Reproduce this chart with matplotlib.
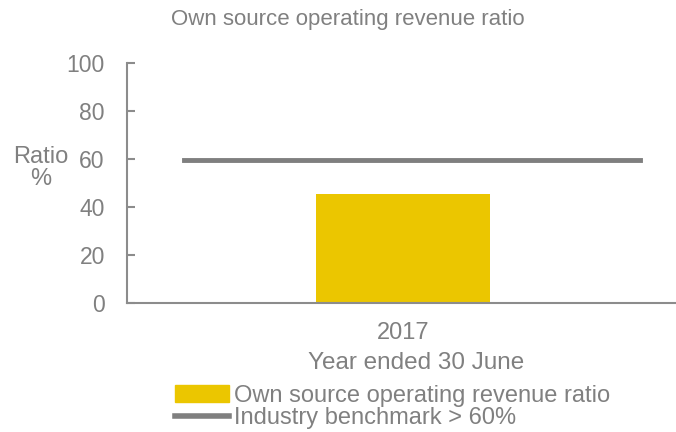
import matplotlib
matplotlib.use("Agg")
import matplotlib.pyplot as plt
from matplotlib.patches import Patch
from matplotlib.lines import Line2D

categories = ["2017"]
ratio_values = [45.2]
benchmark_value = 59.4
yticks = [0, 20, 40, 60, 80, 100]

plt.rcParams['font.family'] = ['Liberation Sans', 'DejaVu Sans']
gray = "#7f7f7f"
txt = "#808080"
yellow = "#EBC600"
fs = 17

fig = plt.figure(figsize=(6.76, 4.32), dpi=100)
ax = fig.add_axes([127/676, 1-302.5/432, 549/676, 239.8/432])

ax.bar(categories, ratio_values, width=0.318, color=yellow, zorder=2)
ax.axhline(benchmark_value, xmin=0.103, xmax=0.935, color=gray, lw=3.5, zorder=3)

ax.set_xlim(-0.503, 0.497)
ax.set_ylim(0, 100)
ax.set_yticks(yticks)
ax.set_yticklabels([str(v) for v in yticks])
for s in ["top", "right"]:
    ax.spines[s].set_visible(False)
for s in ["left", "bottom"]:
    ax.spines[s].set_color("#8c8c8c")
    ax.spines[s].set_linewidth(1.5)
ax.tick_params(axis="y", direction="in", length=6, width=1.5, color="#8c8c8c",
               labelsize=16.5, labelcolor=txt, pad=16)
ax.tick_params(axis="x", length=0, labelsize=fs, labelcolor=txt, pad=14)
ax.set_xlabel("Year ended 30 June", fontsize=17.5, color=txt, labelpad=6, x=0.527)

fig.text(348/676, 1-20/432, "Own source operating revenue ratio", ha="center", va="center",
         fontsize=16, color=txt)
fig.text(41/676, 1-168/432, "Ratio\n%", ha="center", va="center", fontsize=fs,
         color=txt, linespacing=1.02)

handles = [Patch(color=yellow), Line2D([0], [0], color=gray, lw=4)]
labels = ["Own source operating revenue ratio", "Industry benchmark > 60%"]
leg = fig.legend(handles, labels, loc="upper left", bbox_to_anchor=(175/676, 1-385/432),
                 frameon=False, fontsize=fs, handlelength=2.3, handletextpad=0.2,
                 labelspacing=0.0, borderaxespad=0, borderpad=0)
for t in leg.get_texts():
    t.set_color(txt)

fig.savefig("out.png", dpi=100)
